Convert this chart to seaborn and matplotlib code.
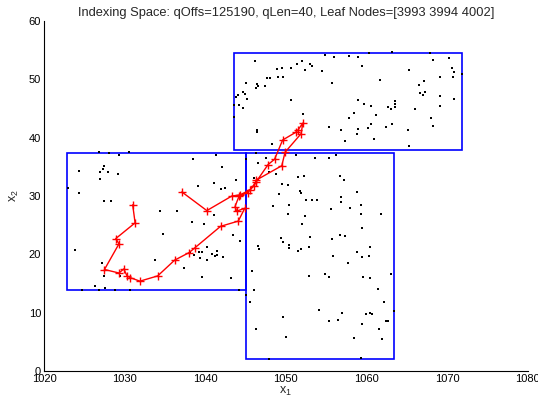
import numpy as np
import pandas as pd
import matplotlib
matplotlib.use("Agg")
import matplotlib.pyplot as plt
import seaborn as sns
from matplotlib.patches import Rectangle

# leaf node boxes: (x1 min, x1 max, x2 min, x2 max)
leaf_boxes = [
    (1022.9, 1045.1, 13.8, 37.4),
    (1043.6, 1071.9, 37.9, 54.5),
    (1045.1, 1063.4, 2.1, 37.4),
]

# indexed points
pts_x1 = [
    1026.8, 1028.1, 1029.3, 1030.5, 1027.5, 1027.3, 1024.3, 1027.0, 1027.9, 1029.2,
    1026.9, 1038.5, 1041.3, 1042.1, 1023.0, 1024.4, 1027.5, 1028.3, 1039.1, 1041.1,
    1041.9, 1042.4, 1043.8, 1034.4, 1036.5, 1041.1, 1038.3, 1039.8, 1034.7, 1043.4,
    1044.3, 1023.8, 1038.1, 1038.6, 1039.2, 1039.6, 1040.2, 1040.9, 1041.4, 1041.2,
    1041.5, 1042.2, 1039.3, 1040.2, 1033.8, 1027.2, 1037.4, 1027.4, 1029.4, 1039.6,
    1043.2, 1026.3, 1026.8, 1027.6, 1028.8, 1030.7, 1024.7, 1044.2, 1045.8, 1046.1,
    1046.7, 1046.5, 1045.1, 1046.3,
    1060.3, 1063.2, 1067.9, 1068.2, 1070.2, 1046.2, 1054.8, 1056.0, 1057.8, 1059.0,
    1052.0, 1051.4, 1053.0, 1053.3, 1050.7, 1052.4, 1054.5, 1049.5, 1048.9, 1059.5,
    1065.3, 1070.6, 1070.8, 1071.9, 1047.7, 1048.0, 1049.0, 1049.7, 1069.1, 1070.7,
    1061.7, 1067.1, 1066.5, 1055.7, 1045.0, 1046.4, 1046.6, 1047.4, 1046.3, 1044.7,
    1044.9, 1044.1, 1043.8, 1045.2, 1066.7, 1067.3, 1067.0, 1069.1, 1070.9, 1050.6,
    1058.9, 1063.6, 1063.6, 1059.7, 1060.6, 1062.7, 1063.0, 1063.6, 1066.0, 1069.1,
    1044.2, 1044.7, 1043.6, 1043.6, 1052.1, 1058.4, 1057.8, 1061.2, 1068.0, 1060.6,
    1063.2, 1062.4, 1060.2, 1058.9, 1055.3, 1068.3, 1056.9, 1058.8, 1065.2, 1046.4,
    1046.4, 1060.9, 1057.3, 1048.3, 1065.3, 1047.5, 1047.9, 1046.0,
    1046.3, 1051.2, 1053.6, 1055.4, 1056.2, 1046.6, 1048.8, 1051.5, 1052.2, 1056.7,
    1057.2, 1049.5, 1050.3, 1051.8, 1051.9, 1049.1, 1058.8, 1052.5, 1053.3, 1053.9,
    1056.9, 1056.9, 1059.3, 1050.4, 1048.4, 1055.6, 1057.9, 1050.3, 1059.3, 1061.8,
    1052.4, 1052.0, 1059.5, 1053.0, 1056.7, 1057.3, 1055.7, 1049.4, 1049.7, 1050.4,
    1050.4, 1051.9, 1051.5, 1052.9, 1060.4, 1058.8, 1059.5, 1060.3, 1055.9, 1057.7,
    1052.9, 1054.8, 1055.3, 1059.6, 1060.4, 1063.1, 1061.4, 1045.0, 1045.6, 1062.2,
    1054.1, 1057.0, 1060.0, 1060.4, 1060.7, 1063.4, 1049.7, 1055.4, 1056.5, 1059.5,
    1062.4, 1062.7, 1046.3, 1061.5, 1050.0, 1058.4, 1061.9, 1047.9, 1059.3,
]
pts_x2 = [
    37.5, 37.3, 37.1, 37.5, 35.1, 34.6, 34.3, 34.1, 34.2, 33.7,
    32.9, 36.3, 37.0, 34.9, 31.3, 30.6, 29.1, 29.1, 31.8, 32.3,
    31.2, 31.4, 32.7, 27.5, 27.4, 26.7, 25.6, 25.2, 23.5, 23.3,
    22.3, 20.7, 20.2, 19.9, 20.4, 20.4, 21.3, 20.0, 20.6, 19.7,
    19.9, 19.5, 19.3, 19.0, 19.1, 18.5, 17.6, 16.3, 16.3, 16.1,
    15.9, 14.5, 13.9, 14.2, 13.9, 13.8, 13.8, 13.8, 17.1, 13.9,
    21.0, 21.5, 36.3, 37.4,
    54.6, 54.7, 54.5, 53.3, 53.7, 53.2, 54.2, 53.8, 54.0, 53.8,
    53.2, 52.6, 52.6, 52.3, 51.9, 51.6, 51.5, 52.0, 51.7, 52.3,
    51.6, 51.9, 51.2, 50.9, 50.3, 50.3, 50.4, 50.4, 50.4, 50.4,
    49.9, 49.7, 49.0, 49.4, 49.3, 49.2, 48.8, 48.8, 48.6, 47.8,
    47.5, 47.3, 47.0, 46.6, 47.7, 47.8, 47.3, 47.1, 46.6, 46.4,
    46.4, 46.3, 45.8, 45.8, 45.5, 45.3, 45.0, 45.2, 45.0, 45.4,
    45.6, 45.1, 45.6, 43.5, 44.0, 44.2, 43.3, 43.9, 43.4, 42.3,
    42.4, 41.9, 41.7, 41.5, 41.8, 42.0, 41.3, 40.6, 41.3, 41.3,
    41.0, 39.8, 39.5, 38.9, 38.6, 36.5, 34.2, 33.1,
    37.3, 37.0, 36.6, 36.5, 37.1, 35.6, 33.8, 33.3, 33.5, 33.4,
    32.7, 32.1, 31.9, 30.9, 30.5, 30.3, 30.7, 29.3, 29.3, 29.4,
    29.8, 29.0, 28.5, 28.5, 28.3, 27.7, 27.9, 27.0, 27.0, 27.0,
    26.6, 25.2, 24.6, 23.0, 23.3, 23.1, 22.6, 22.8, 22.1, 21.6,
    21.1, 20.9, 20.6, 21.3, 21.3, 20.4, 19.6, 19.7, 19.8, 18.5,
    16.3, 16.7, 16.2, 16.1, 16.0, 16.6, 14.0, 13.0, 11.9, 11.8,
    10.5, 9.9, 9.8, 9.9, 9.7, 10.3, 9.3, 8.5, 8.8, 8.0,
    8.6, 8.6, 7.2, 7.2, 5.8, 5.7, 5.5, 2.1, 2.2,
]

# query sequence (qLen=40)
query_x1 = [
    1031.0, 1031.3, 1028.9, 1029.3, 1027.5, 1029.3, 1029.9, 1030.3, 1030.7, 1031.9,
    1034.1, 1036.2, 1038.0, 1038.7, 1041.9, 1044.1, 1044.9, 1043.9, 1043.7, 1044.2,
    1045.3, 1046.3, 1047.8, 1048.6, 1049.6, 1051.2, 1051.5, 1052.1, 1051.9, 1049.9,
    1049.5, 1046.3, 1046.1, 1045.5, 1044.3, 1043.3, 1040.2, 1037.1,
]
query_x2 = [
    28.5, 25.4, 22.7, 21.8, 17.4, 16.8, 17.5, 16.3, 16.0, 15.4,
    16.3, 19.0, 20.3, 21.1, 24.8, 25.7, 27.9, 27.4, 28.2, 30.0,
    30.6, 32.4, 35.4, 36.3, 39.6, 40.9, 41.3, 42.5, 40.7, 37.5,
    35.2, 32.7, 31.8, 31.0, 30.2, 30.0, 27.5, 30.7,
]

title = "Indexing Space: qOffs=125190, qLen=40, Leaf Nodes=[3993 3994 4002]"

sns.set_style("white")
plt.rcParams["font.family"] = ["Liberation Sans", "DejaVu Sans"]
plt.rcParams["mathtext.fontset"] = "custom"
plt.rcParams["mathtext.rm"] = "Liberation Sans"
plt.rcParams["mathtext.it"] = "Liberation Sans"

fig = plt.figure(figsize=(5.38, 4.05), dpi=100)
ax = fig.add_axes([0.0818, 0.084, 0.899, 0.864])

for x0, x1, y0, y1 in leaf_boxes:
    ax.add_patch(Rectangle((x0, y0), x1 - x0, y1 - y0, fill=False,
                           edgecolor="#0000ff", linewidth=1.2, zorder=2))

pts = pd.DataFrame({"x1": pts_x1, "x2": pts_x2})
sns.scatterplot(data=pts, x="x1", y="x2", ax=ax, color="black", s=3,
                marker="s", linewidth=0, zorder=3)

q = pd.DataFrame({"x1": query_x1, "x2": query_x2})
sns.lineplot(data=q, x="x1", y="x2", ax=ax, sort=False, estimator=None,
             color="red", linewidth=1.0, marker="+", markersize=6,
             markeredgewidth=1.0, markeredgecolor="red", zorder=4)

ax.set_xlim(1020, 1080)
ax.set_ylim(0, 60)
ax.set_xticks(np.arange(1020, 1081, 10))
ax.set_yticks(np.arange(0, 61, 10))
ax.tick_params(direction="in", length=3.5, width=0.8, labelsize=8, pad=2,
               colors="black")
for side in ["top", "right"]:
    ax.spines[side].set_visible(False)
for side in ["left", "bottom"]:
    ax.spines[side].set_color("black")
    ax.spines[side].set_linewidth(0.8)

ax.set_xlabel(r"x$_1$", fontsize=9, labelpad=1)
ax.set_ylabel(r"x$_2$", fontsize=9, labelpad=6)
ax.set_title(title, fontsize=9.3, pad=4)

fig.savefig("out.png", dpi=100, facecolor="white")
